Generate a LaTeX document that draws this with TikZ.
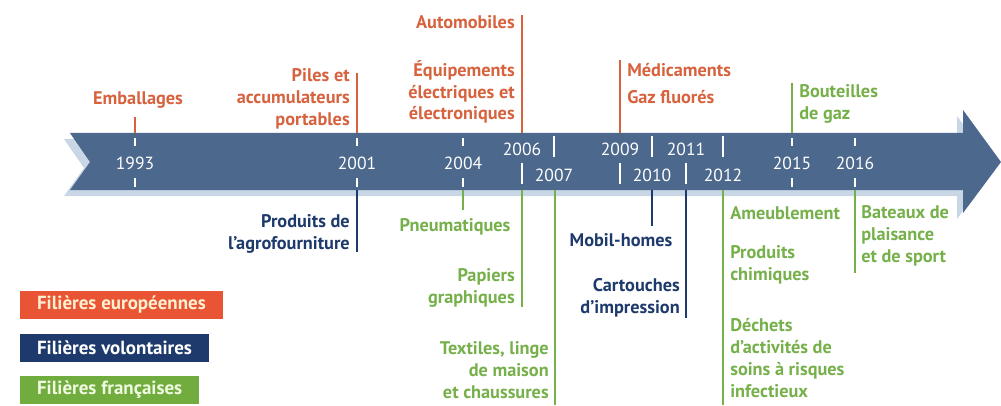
\documentclass[tikz,border=0pt]{standalone}
\usepackage{fontspec}
\setmainfont{PT Sans}
\usepackage{tikz}
\definecolor{eured}{RGB}{214,98,62}
\definecolor{eubox}{RGB}{232,84,52}
\definecolor{voblue}{RGB}{30,58,108}
\definecolor{frgreen}{RGB}{118,176,74}
\definecolor{frbox}{RGB}{112,172,62}
\definecolor{band}{RGB}{76,104,140}
\definecolor{bandshade}{RGB}{200,214,230}
\tikzset{lab/.style={inner sep=0pt,font=\fontsize{13}{15.5}\selectfont\bfseries}}

\begin{document}
\begin{tikzpicture}[x=0.25mm,y=-0.25mm,
    eu/.style={lab,text=eured},
    vo/.style={lab,text=voblue},
    fr/.style={lab,text=frgreen},
    euline/.style={eured,line width=1.4pt},
    voline/.style={voblue,line width=1.4pt},
    frline/.style={frgreen,line width=1.4pt},
    yr/.style={text=white,inner sep=0pt,font=\fontsize{12.5}{12.5}\selectfont},
    tick/.style={white,line width=1.3pt},
    key/.style={anchor=west,minimum height=7mm,inner xsep=4.2mm,inner ysep=0pt,
      font=\fontsize{13.5}{15.5}\selectfont\bfseries}]
  \useasboundingbox (0,0) rectangle (1001,405);

  % the arrow
  \fill[bandshade] (64,139) -- (957,139) -- (957,116) -- (995,168) -- (957,219)
    -- (957,196) -- (64,196) -- (84,168) -- cycle;
  \fill[band] (70,133) -- (963,133) -- (963,110) -- (1001,162) -- (963,213)
    -- (963,190) -- (70,190) -- (90,162) -- cycle;

  % years
  \foreach \x/\yr in {135/1993,357/2001,463/2004,792/2015,855/2016}{
    \node[yr] (y\yr) at (\x,163) {\yr};
    \draw[tick] (\x,138) -- (\x,146);
    \draw[tick] (\x,178) -- (\x,187);
  }
  \foreach \x/\yr in {522/2006,620/2009,686/2011}{
    \node[yr] (y\yr) at (\x,149) {\yr};
    \draw[tick] (\x,163) -- (\x,184);
  }
  \foreach \x/\yr in {554/2007,652/2010,723/2012}{
    \node[yr] (y\yr) at (\x,175) {\yr};
    \draw[tick] (\x,136) -- (\x,157);
  }

  % band ends of the lines
  \coordinate (a93) at (135,133);  \coordinate (b93) at (135,117);
  \coordinate (a01) at (357,133);  \coordinate (b01) at (357,73);
  \coordinate (a06) at (522,133);  \coordinate (b06) at (522,15);
  \coordinate (a09) at (620,133);  \coordinate (b09) at (620,60);
  \coordinate (a15) at (792,133);  \coordinate (b15) at (792,83);
  \coordinate (c01) at (357,190);  \coordinate (d01) at (357,252);
  \coordinate (c04) at (463,190);  \coordinate (d04) at (463,210);
  \coordinate (c06) at (522,190);  \coordinate (d06) at (522,307);
  \coordinate (c07) at (555,190);  \coordinate (d07) at (555,405);
  \coordinate (c10) at (652,190);  \coordinate (d10) at (652,226);
  \coordinate (c11) at (686,190);  \coordinate (d11) at (686,318);
  \coordinate (c12) at (723,190);  \coordinate (d12) at (723,405);
  \coordinate (c16) at (855,190);  \coordinate (d16) at (855,273);

  \draw[euline] (a93) -- (b93);
  \draw[euline] (a01) -- (b01);
  \draw[euline] (a06) -- (b06);
  \draw[euline] (a09) -- (b09);
  \draw[frline] (a15) -- (b15);
  \draw[voline] (c01) -- (d01);
  \draw[frline] (c04) -- (d04);
  \draw[frline] (c06) -- (d06);
  \draw[frline] (c07) -- (d07);
  \draw[voline] (c10) -- (d10);
  \draw[voline] (c11) -- (d11);
  \draw[frline] (c12) -- (d12);
  \draw[frline] (c16) -- (d16);

  % labels above
  \node[eu] (emb) at (138,100) {Emballages};
  \node[eu,anchor=east,align=right] (piles) at (350,99) {Piles et\\accumulateurs\\portables};
  \node[eu,anchor=east] (auto) at (515,22) {Automobiles};
  \node[eu,anchor=east,align=right] (deee) at (515,92) {Équipements\\électriques et\\électroniques};
  \node[eu,anchor=west] (medic) at (627,70) {Médicaments};
  \node[eu,anchor=west] (gaz) at (627,97) {Gaz fluorés};
  \node[fr,anchor=west,align=left] (bout) at (799,104) {Bouteilles\\de gaz};

  % labels below
  \node[vo,anchor=east,align=right] (agro) at (350,234) {Produits de\\l’agrofourniture};
  \node[fr] (pneu) at (455,227) {Pneumatiques};
  \node[fr,anchor=east,align=right] (papier) at (515,288) {Papiers\\graphiques};
  \node[fr,anchor=east,align=right] (textile) at (549,370) {Textiles, linge\\de maison\\et chaussures};
  \node[vo] (mobil) at (621,240) {Mobil-homes};
  \node[vo,anchor=east,align=right] (cart) at (680,298) {Cartouches\\d’impression};
  \node[fr,anchor=west] (meuble) at (730,213) {Ameublement};
  \node[fr,anchor=west,align=left] (chim) at (730,265) {Produits\\chimiques};
  \node[fr,anchor=west,align=left] (dasri) at (730,358) {Déchets\\d’activités de\\soins à risques\\infectieux};
  \node[fr,anchor=west,align=left] (bateau) at (861,236) {Bateaux de\\plaisance\\et de sport};

  % legend
  \node[key,fill=eubox,text={rgb,255:red,255;green,240;blue,210}] (keyeu) at (20,305) {Filières européennes};
  \node[key,fill=voblue,text=white] (keyvo) at (20,348) {Filières volontaires};
  \node[key,fill=frbox,text={rgb,255:red,240;green,250;blue,225}] (keyfr) at (20,390) {Filières françaises};
\end{tikzpicture}
\end{document}
